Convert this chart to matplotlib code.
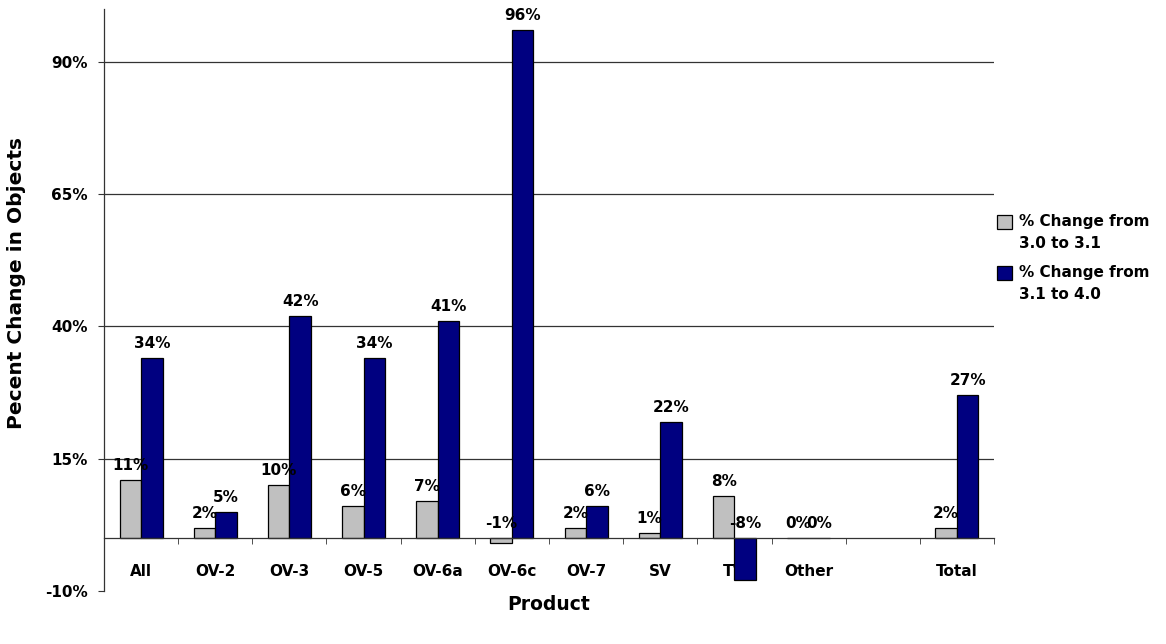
import numpy as np
import matplotlib.pyplot as plt
from matplotlib.ticker import FuncFormatter
from matplotlib.legend_handler import HandlerPatch
from matplotlib.patches import Rectangle

plt.rcParams['font.family'] = ['DejaVu Sans']
plt.rcParams['font.weight'] = 'bold'

categories = ["All", "OV-2", "OV-3", "OV-5", "OV-6a", "OV-6c", "OV-7", "SV", "TV", "Other", "", "Total"]
change_30_31 = [11, 2, 10, 6, 7, -1, 2, 1, 8, 0, np.nan, 2]
change_31_40 = [34, 5, 42, 34, 41, 96, 6, 22, -8, 0, np.nan, 27]
series_names = ["% Change from\n3.0 to 3.1", "% Change from\n3.1 to 4.0"]
yticks = [-10, 15, 40, 65, 90]

fig = plt.figure(figsize=(11.66, 6.44), dpi=100)
ax = fig.add_axes([104/1166, 53/644, 890/1166, 582/644])

x = np.arange(len(categories))
w = 0.29
bars1 = ax.bar(x - w/2, change_30_31, w, color="#C0C0C0", edgecolor="black",
               linewidth=0.9, label=series_names[0], zorder=3)
bars2 = ax.bar(x + w/2, change_31_40, w, color="#000080", edgecolor="black",
               linewidth=0.9, label=series_names[1], zorder=3)

# data labels, always above the zero line
for offs, vals in [(-w/2, change_30_31), (w/2, change_31_40)]:
    for xi, v in zip(x, vals):
        if np.isnan(v):
            continue
        ax.annotate(f"{v:.0f}%", (xi + offs, max(v, 0)), xytext=(0, 5),
                    textcoords="offset points", ha="center", va="bottom",
                    fontsize=11, fontweight="bold")

ax.set_xlim(-0.5, len(categories) - 0.5)
ax.set_ylim(-10, 100)

# horizontal grid
for v in yticks[1:]:
    ax.axhline(v, color="#333333", linewidth=0.9, zorder=0)

ax.set_yticks(yticks)
ax.yaxis.set_major_formatter(FuncFormatter(lambda v, p: f"{v:.0f}%"))
ax.tick_params(axis="y", length=4.5, direction="out", pad=7, labelsize=11,
               color="#333333")

ax.spines["top"].set_visible(False)
ax.spines["right"].set_visible(False)
ax.spines["bottom"].set_position(("data", 0))
ax.spines["bottom"].set_zorder(4)
for s in ["left", "bottom"]:
    ax.spines[s].set_color("#333333")
    ax.spines[s].set_linewidth(0.9)

ax.set_xticks(x)
ax.set_xticklabels(categories)
ax.set_xticks(np.arange(-0.5, len(categories)), minor=True)
ax.tick_params(axis="x", which="major", length=0, pad=19, labelsize=11)
ax.tick_params(axis="x", which="minor", length=4.5, direction="out", color="#333333")

fig.text(17/1166, 1 - 283/644, "Pecent Change in Objects", rotation=90,
         ha="center", va="center", fontsize=14.5, fontweight="bold")
fig.text(549/1166, 1 - 605/644, "Product", ha="center", va="center",
         fontsize=13.5, fontweight="bold")


# legend square sits next to the first text line, like the original
def top_square(legend, orig_handle, xdescent, ydescent, width, height, fontsize):
    return Rectangle((-xdescent, -ydescent + 8), width, height)


def from_first_bar(legend_handle, orig_handle):
    legend_handle.update_from(orig_handle.patches[0])


sq = HandlerPatch(patch_func=top_square, update_func=from_first_bar)
leg = fig.legend(loc="upper left", bbox_to_anchor=(997/1166, 1 - 214/644), frameon=False,
                 fontsize=11, handlelength=1.0, handleheight=1.0, handletextpad=0.45,
                 labelspacing=0.95, borderaxespad=0, borderpad=0,
                 handler_map={bars1: sq, bars2: sq})
for t in leg.get_texts():
    t.set_linespacing(1.55)

fig.savefig("out.png", dpi=100)
